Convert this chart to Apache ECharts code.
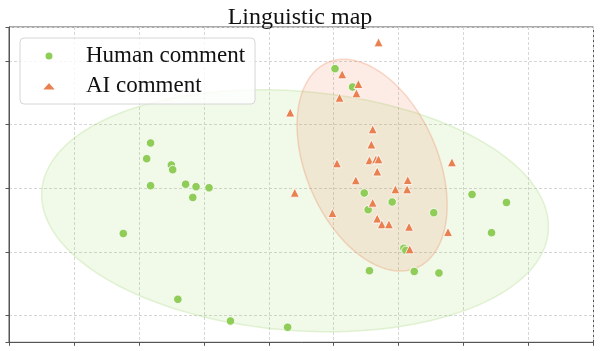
<!DOCTYPE html>
<html><head><meta charset="utf-8">
<script src="https://cdn.jsdelivr.net/npm/echarts@6/dist/echarts.min.js"></script>
<style>html,body{margin:0;padding:0;background:#fff}#c{width:600px;height:351px}</style>
</head><body><div id="c"></div>
<script>
// Human comment points
const humanX = [1.02, 1.29, -1.82, -1.88, -1.50, -1.48, -1.82, -1.28, -1.12, -0.92, -1.17, -2.24, -1.40, -0.59, 0.29,
  1.47, 1.90, 1.53, 2.54, 3.13, 3.66, 3.43, 2.08, 2.11, 1.55, 2.24, 2.62];
const humanY = [1.878, 1.590, 0.711, 0.465, 0.366, 0.292, 0.041, 0.064, 0.025, 0.008, -0.144, -0.710, -1.743, -2.083, -2.182,
  -0.074, -0.215, -0.336, -0.383, -0.097, -0.223, -0.697, -0.942, -0.976, -1.294, -1.306, -1.330];
// AI comment points
const aiX = [1.69, 1.13, 1.38, 1.35, 1.09, 0.33, 1.60, 1.58, 1.55, 1.65, 1.69, 1.05, 2.82, 1.67, 1.34, 2.14, 1.95, 2.13,
  0.40, 1.60, 0.98, 1.67, 1.74, 1.85, 2.16, 2.76, 2.17];
const aiY = [2.292, 1.790, 1.637, 1.491, 1.422, 1.190, 0.926, 0.688, 0.440, 0.455, 0.455, 0.392, 0.408, 0.264, 0.126, 0.130, -0.016, -0.016,
  -0.069, -0.226, -0.388, -0.474, -0.565, -0.565, -0.603, -0.686, -0.958];
// Ellipses: [centerX, centerY, Sxx, Sxy, Syy]
const humanEllipse = [0.405, -0.353, 15.23, -0.974, 3.608];
const aiEllipse = [1.591, 0.363, 1.335, -0.7246, 2.764];
// Axis ranges
const xRange = [-4, 5];
const yRange = [-2.418, 2.532];
const seriesNames = ['Human comment', 'AI comment'];
const titleText = 'Linguistic map';

const GREEN = '#8fcd58', ORANGE = '#e9804f';
const FONT = 'Liberation Serif';

function zip(xs, ys) { return xs.map((x, i) => [x, ys[i]]); }

function ellipseSeries(params, fill, stroke, z) {
  return {
    type: 'custom', coordinateSystem: 'cartesian2d', silent: true, z: z,
    data: [[params[0], params[1]]],
    renderItem: function (p, api) {
      const cx = params[0], cy = params[1], sxx = params[2], sxy = params[3], syy = params[4];
      const ux = Math.sqrt(sxx), uy = sxy / ux, vy = Math.sqrt(syy - uy * uy);
      const pts = [];
      for (let i = 0; i < 180; i++) {
        const t = i / 180 * Math.PI * 2;
        pts.push(api.coord([cx + ux * Math.cos(t), cy + uy * Math.cos(t) + vy * Math.sin(t)]));
      }
      return { type: 'polygon', shape: { points: pts }, style: { fill: fill, stroke: stroke, lineWidth: 1.5 } };
    }
  };
}

const chart = echarts.init(document.getElementById('c'), null, { renderer: 'canvas' });
const axisCommon = {
  type: 'value',
  axisLabel: { show: false },
  axisLine: { show: true, onZero: false, lineStyle: { color: '#555', width: 1 } },
  axisTick: { show: true, inside: false, length: 3.5, lineStyle: { color: '#555', width: 1 } },
  splitLine: { show: true, lineStyle: { color: '#d6d6d6', width: 1, type: [3, 2] } }
};
chart.setOption({
  animation: false,
  backgroundColor: '#fff',
  title: { text: titleText, left: 'center', top: 1, textStyle: { fontFamily: FONT, fontSize: 24, fontWeight: 'normal', color: '#111' } },
  grid: { left: 9, right: 6.5, top: 27, bottom: 8.7, show: true, borderColor: '#555', borderWidth: 1, backgroundColor: 'transparent' },
  xAxis: Object.assign({}, axisCommon, { min: xRange[0], max: xRange[1], interval: 1 }),
  yAxis: Object.assign({}, axisCommon, { min: yRange[0], max: yRange[1], splitNumber: 5 }),
  legend: {
    left: 20, top: 38, orient: 'vertical',
    padding: [5, 10, 5, 20], itemGap: 4,
    itemWidth: 16, itemHeight: 9,
    backgroundColor: 'rgba(255,255,255,0.8)', borderColor: '#d6d6d6', borderWidth: 1, borderRadius: 4,
    textStyle: { fontFamily: FONT, fontSize: 23, color: '#111', lineHeight: 26, padding: [0, 0, 0, 24] },
    data: [{ name: seriesNames[0], icon: 'circle' }, { name: seriesNames[1], icon: 'triangle' }]
  },
  series: [
    ellipseSeries(humanEllipse, 'rgba(143,205,88,0.13)', 'rgba(143,205,88,0.22)', 1),
    ellipseSeries(aiEllipse, 'rgba(233,128,79,0.15)', 'rgba(233,128,79,0.28)', 2),
    { name: seriesNames[0], type: 'scatter', z: 3, symbol: 'circle', symbolSize: 8.5, data: zip(humanX, humanY),
      itemStyle: { color: GREEN, borderColor: '#fff', borderWidth: 0.8, opacity: 1 } },
    { name: seriesNames[1], type: 'scatter', z: 4, symbol: 'triangle', symbolSize: 9, data: zip(aiX, aiY),
      itemStyle: { color: ORANGE, borderColor: '#fff', borderWidth: 0.8, opacity: 1 } }
  ]
});
</script></body></html>
